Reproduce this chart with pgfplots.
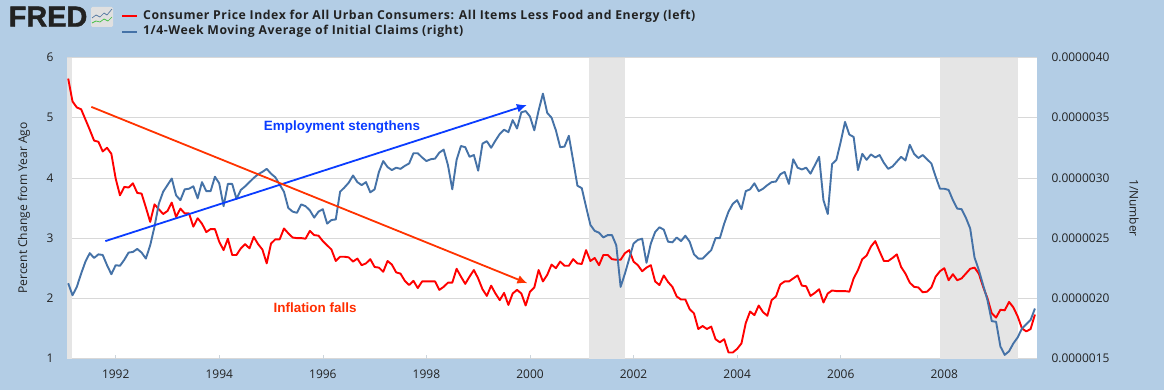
\documentclass[border=0pt]{standalone}
\usepackage{pgfplots}
\pgfplotsset{compat=1.18}
\usepackage{fontspec}
\setmainfont{Open Sans}
\newfontfamily\arialf{Liberation Sans}
\newfontfamily\logof[FakeBold=1.5]{Liberation Sans Bold}
\usetikzlibrary{arrows.meta}
\definecolor{bgblue}{HTML}{B3CDE5}
\definecolor{gridc}{HTML}{D8D8D8}
\definecolor{band}{HTML}{E5E5E5}
\definecolor{redl}{HTML}{FF0000}
\definecolor{bluel}{HTML}{4572A7}
\definecolor{arrb}{HTML}{0A3CFF}
\definecolor{arrr}{HTML}{FF3300}
\definecolor{txt}{HTML}{222222}
\begin{document}
\begin{tikzpicture}[x=1bp,y=1bp]
\useasboundingbox (0,0) rectangle (1164,390);
\fill[bgblue] (0,0) rectangle (1164,390);
% logo
\node[anchor=base west,inner sep=0pt,text=txt] at (8.5,5.5+358) {\logof\fontsize{29}{29}\selectfont FRED};
\fill[rounded corners=1.5,fill=black!12] (91,363) rectangle (113,383);
\draw[bluel!80!gray,line width=0.7] (92,372) -- (96,375) -- (100,373) -- (104,377) -- (107,375) -- (112,381);
\draw[green!50!gray,line width=0.7] (92,367) -- (96,369) -- (100,368) -- (104,371) -- (108,369) -- (112,373);
% legend
\draw[redl,line width=1.9] (122,374) -- (137,374);
\draw[bluel,line width=1.9] (122,358.3) -- (137,358.3);
\node[anchor=west,inner sep=0pt,text=txt] at (143,374) {\addfontfeature{LetterSpace=4.5}\bfseries\fontsize{12.3}{14}\selectfont Consumer Price Index for All Urban Consumers: All Items Less Food and Energy (left)};
\node[anchor=west,inner sep=0pt,text=txt] at (143,358.3) {\addfontfeature{LetterSpace=4.5}\bfseries\fontsize{12.3}{14}\selectfont 1/4-Week Moving Average of Initial Claims (right)};
% axis titles
\node[rotate=90,text=txt,font=\fontsize{12.1}{14}\selectfont] at (24,182) {Percent Change from Year Ago};
\node[rotate=-90,text=txt,font=\fontsize{12}{14}\selectfont] at (1134,182) {1/Number};
\begin{axis}[
  at={(67bp,31.5bp)},anchor=south west,scale only axis,
  width=970bp,height=301bp,
  xmin=1991.06,xmax=2009.79,ymin=1,ymax=6,
  axis background/.style={fill=white},
  axis line style={draw=none},
  ytick={1,2,3,4,5,6},
  ymajorgrids,grid style={gridc,line width=0.8pt},
  xtick={1992,1994,1996,1998,2000,2002,2004,2006,2008},
  xtick pos=bottom,ytick pos=left,
  major tick length=4bp,
  xtick style={draw=gridc!70!bgblue,line width=0.6pt},
  ytick style={draw=none},
  /pgf/number format/assume math mode=true,
  /pgf/number format/1000 sep={},
  ticklabel style={font=\fontsize{12}{14}\selectfont,text=txt},
  xticklabel style={yshift=-8bp},
  yticklabel style={xshift=-10bp},
]
\addplot[fill=band,draw=none,forget plot] coordinates {(1991.06,1) (1991.16,1) (1991.16,6) (1991.06,6)} -- cycle;
\addplot[fill=band,draw=none,forget plot] coordinates {(2001.13,1) (2001.83,1) (2001.83,6) (2001.13,6)} -- cycle;
\addplot[fill=band,draw=none,forget plot] coordinates {(2007.92,1) (2009.42,1) (2009.42,6) (2007.92,6)} -- cycle;
\addplot[redl,line width=1.9bp,line join=round,no markers] table[row sep=\\,header=false,x expr={1991.083+\coordindex/12},y index=0] {
5.65\\5.27\\5.17\\5.14\\4.97\\4.80\\4.62\\4.60\\4.44\\4.50\\4.40\\3.99\\
3.71\\3.85\\3.84\\3.91\\3.75\\3.74\\3.51\\3.27\\3.56\\3.48\\3.40\\3.45\\
3.59\\3.35\\3.49\\3.41\\3.41\\3.19\\3.33\\3.24\\3.10\\3.15\\3.15\\2.94\\
2.80\\2.99\\2.72\\2.72\\2.83\\2.90\\2.83\\3.02\\2.90\\2.81\\2.58\\2.91\\
2.98\\2.98\\3.16\\3.08\\3.01\\3.00\\3.00\\2.99\\3.12\\3.05\\3.04\\2.95\\
2.88\\2.81\\2.62\\2.69\\2.69\\2.68\\2.61\\2.66\\2.55\\
2.58\\2.65\\2.52\\2.51\\2.44\\2.62\\2.56\\2.43\\2.41\\2.29\\2.22\\2.29\\
2.17\\2.28\\2.28\\2.28\\2.28\\2.14\\2.19\\2.26\\2.26\\2.49\\2.36\\2.24\\
2.36\\2.47\\2.33\\2.15\\2.04\\2.21\\2.08\\1.97\\2.09\\1.89\\2.08\\2.14\\
2.08\\1.88\\2.11\\2.18\\2.47\\2.28\\2.39\\2.56\\2.50\\2.61\\2.54\\2.54\\
2.65\\2.58\\2.57\\2.80\\2.62\\2.67\\2.55\\2.72\\2.72\\2.65\\2.64\\2.64\\
2.75\\2.80\\2.61\\2.55\\2.45\\2.51\\2.55\\2.28\\2.22\\2.38\\2.27\\2.19\\
2.03\\1.98\\1.98\\1.82\\1.75\\1.49\\1.54\\1.49\\1.53\\1.32\\1.27\\1.32\\
1.10\\1.10\\1.16\\1.25\\1.59\\1.78\\1.72\\1.88\\1.77\\1.71\\1.97\\2.03\\
2.23\\2.28\\2.28\\2.33\\2.38\\2.21\\2.20\\2.04\\2.09\\2.15\\1.93\\2.08\\
2.13\\2.12\\2.12\\2.12\\2.11\\2.33\\2.47\\2.65\\2.71\\2.86\\2.95\\2.78\\
2.62\\2.62\\2.67\\2.73\\2.52\\2.41\\2.26\\2.19\\2.18\\2.10\\2.11\\2.18\\
2.36\\2.45\\2.50\\2.30\\2.40\\2.30\\2.33\\2.41\\2.49\\2.51\\2.41\\2.19\\
2.00\\1.75\\1.68\\1.81\\1.80\\1.94\\1.85\\1.70\\1.50\\1.45\\1.49\\1.73\\
};
\end{axis}
\begin{axis}[
  at={(67bp,31.5bp)},anchor=south west,scale only axis,
  width=970bp,height=301bp,
  xmin=1991.06,xmax=2009.79,ymin=1.5,ymax=4,
  axis line style={draw=none},
  hide x axis,
  ytick={1.5,2,2.5,3,3.5,4},
  yticklabels={0.0000015,0.0000020,0.0000025,0.0000030,0.0000035,0.0000040},
  ytick pos=right,
  ytick style={draw=none},
  ticklabel style={font=\fontsize{12}{14}\selectfont,text=txt},
  yticklabel style={xshift=11bp},
  clip=false,
]
\addplot[bluel,line width=1.9bp,line join=round,no markers] table[row sep=\\,header=false,x expr={1991.083+\coordindex/12},y index=0] {
2.125\\2.025\\2.095\\2.205\\2.305\\2.375\\2.335\\2.365\\2.36\\2.275\\2.20\\2.275\\
2.27\\2.32\\2.38\\2.385\\2.41\\2.38\\2.33\\2.44\\2.595\\2.785\\2.885\\2.94\\
2.995\\2.855\\2.815\\2.905\\2.91\\2.93\\2.83\\2.965\\2.89\\2.89\\3.01\\2.955\\
2.765\\2.95\\2.95\\2.825\\2.90\\2.93\\2.965\\3.00\\3.03\\3.05\\3.075\\3.035\\
3.005\\2.945\\2.885\\2.75\\2.72\\2.71\\2.78\\2.765\\2.73\\2.67\\2.72\\2.74\\
2.62\\2.65\\2.655\\2.885\\2.92\\2.96\\3.02\\2.965\\
2.94\\2.965\\2.88\\2.905\\3.05\\3.14\\3.09\\3.065\\3.085\\3.075\\3.10\\3.12\\
3.205\\3.205\\3.17\\3.14\\3.155\\3.16\\3.21\\3.235\\3.105\\2.905\\3.15\\3.265\\
3.255\\3.175\\3.19\\3.06\\3.285\\3.305\\3.25\\3.31\\3.365\\3.40\\3.38\\3.48\\
3.41\\3.545\\3.555\\3.51\\3.395\\3.56\\3.70\\3.54\\3.50\\3.395\\3.255\\3.26\\
3.35\\3.145\\2.935\\2.915\\2.76\\2.61\\2.56\\2.545\\2.505\\2.525\\2.525\\2.44\\
2.095\\2.205\\2.33\\2.455\\2.485\\2.495\\2.295\\2.455\\2.55\\2.59\\2.57\\2.47\\
2.465\\2.505\\2.475\\2.52\\2.47\\2.365\\2.33\\2.33\\2.365\\2.40\\2.50\\2.50\\
2.62\\2.72\\2.785\\2.815\\2.74\\2.89\\2.905\\2.955\\2.89\\2.91\\2.94\\2.965\\
2.97\\3.03\\3.05\\2.95\\3.155\\3.085\\3.07\\3.085\\3.035\\3.105\\3.175\\2.815\\
2.70\\3.115\\3.15\\3.30\\3.465\\3.36\\3.34\\3.065\\3.20\\3.15\\3.195\\3.17\\
3.19\\3.125\\3.075\\3.095\\3.135\\3.175\\3.145\\3.275\\3.20\\3.165\\3.19\\3.155\\
3.12\\3.01\\2.91\\2.91\\2.90\\2.815\\2.745\\2.74\\2.67\\2.58\\2.34\\2.235\\
2.11\\1.985\\1.81\\1.805\\1.60\\1.53\\1.56\\1.625\\1.675\\1.75\\1.785\\1.82\\1.915\\
};
\addplot[arrb,line width=1.8bp,-{Latex[length=10bp,width=9bp]},no markers] coordinates {(1991.80,2.475) (1999.94,3.605)};
\addplot[arrr,line width=1.8bp,-{Latex[length=10bp,width=9bp]},no markers] coordinates {(1991.53,3.59) (1999.95,2.125)};
\node[text=arrb,font=\arialf\bfseries\fontsize{13.5}{15}\selectfont] at (axis cs:1996.37,3.42) {Employment stengthens};
\node[text=arrr!90!redl,font=\arialf\bfseries\fontsize{13.5}{15}\selectfont] at (axis cs:1995.85,1.92) {Inflation falls};
\end{axis}
\end{tikzpicture}
\end{document}
